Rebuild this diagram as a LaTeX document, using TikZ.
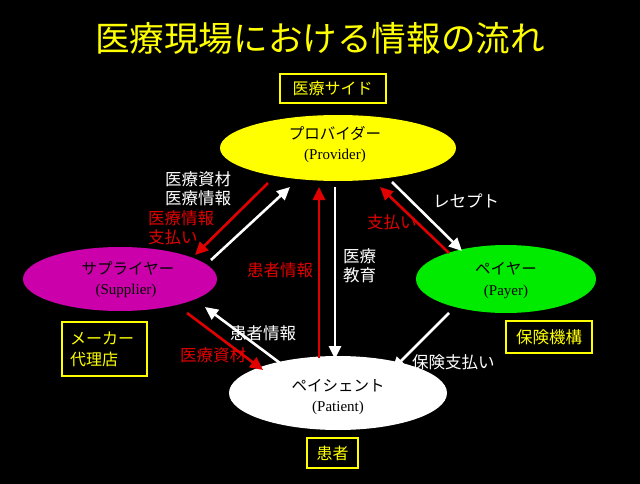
\documentclass[tikz,border=0pt]{standalone}
\usepackage{fontspec}
\setmainfont{Liberation Serif}
\newfontfamily\jp{Noto Sans CJK JP}
\usetikzlibrary{arrows.meta,shapes.geometric}
\definecolor{ared}{RGB}{225,0,0}
\definecolor{amag}{RGB}{204,0,170}
\definecolor{agreen}{RGB}{0,235,0}
\definecolor{ayel}{RGB}{255,255,0}
\tikzset{
  ell/.style={ellipse,inner sep=0pt,align=center,text=black},
  tagbox/.style={draw=ayel,line width=2pt,text=ayel,font=\jp\fontsize{16}{21}\selectfont,align=left,inner sep=0pt},
  lbl/.style={font=\jp\fontsize{16.5}{19.5}\selectfont,align=left,inner sep=0pt},
  warr/.style={draw=white,line width=2.6pt,-{Triangle[length=13pt,width=12pt]}},
  rarr/.style={draw=ared,line width=2.6pt,-{Triangle[length=13pt,width=12pt]}},
}
\begin{document}
\begin{tikzpicture}[x=1pt,y=-1pt]
\fill[black] (0,0) rectangle (640,484);
\useasboundingbox (0,0) rectangle (640,484);
\node[text=ayel,font=\jp\fontsize{34.6}{38}\selectfont,inner sep=0pt] (title) at (320,38) {医療現場における情報の流れ};
% ellipses
\node[ell,fill=ayel,minimum width=236pt,minimum height=66pt] (prov) at (338,148) {};
\node[ell,fill=amag,minimum width=194pt,minimum height=64pt] (sup) at (120,279) {};
\node[ell,fill=agreen,minimum width=180pt,minimum height=68pt] (pay) at (506,279) {};
\node[ell,fill=white,minimum width=218pt,minimum height=74pt] (pat) at (338,393) {};
\node[font=\jp\fontsize{15.5}{18}\selectfont,inner sep=0pt] (provj) at (335,133) {プロバイダー};
\node[font=\fontsize{15}{18}\selectfont,inner sep=0pt] (prove) at (335,156) {(Provider)};
\node[font=\jp\fontsize{15.5}{18}\selectfont,inner sep=0pt] (supj) at (128,268) {サプライヤー};
\node[font=\fontsize{15}{18}\selectfont,inner sep=0pt] (supe) at (126,291) {(Supplier)};
\node[font=\jp\fontsize{15.5}{18}\selectfont,inner sep=0pt] (payj) at (506,269) {ペイヤー};
\node[font=\fontsize{15}{18}\selectfont,inner sep=0pt] (paye) at (506,292) {(Payer)};
\node[font=\jp\fontsize{15.5}{18}\selectfont,inner sep=0pt] (patj) at (338,386) {ペイシェント};
\node[font=\fontsize{15}{18}\selectfont,inner sep=0pt] (pate) at (338,408) {(Patient)};
% tag boxes
\node[tagbox,minimum width=106pt,minimum height=29pt] (side) at (332.5,88.5) {医療サイド};
\node[tagbox,text width=69pt,inner xsep=8pt,minimum height=54pt] (maker) at (104.5,349) {メーカー\\代理店};
\node[tagbox,font=\jp\fontsize{16.5}{21}\selectfont,minimum width=86pt,minimum height=32pt] (hoken) at (549,337) {保険機構};
\node[tagbox,minimum width=51pt,minimum height=30pt] (kanja) at (332.5,453) {患者};
% arrow endpoints
\coordinate (a1s) at (268,183); \coordinate (a1e) at (195,255);
\coordinate (a2s) at (211,260); \coordinate (a2e) at (290,187);
\coordinate (a3s) at (319,358); \coordinate (a3e) at (319,187);
\coordinate (a4s) at (335,187); \coordinate (a4e) at (335,359);
\coordinate (a5s) at (392,182); \coordinate (a5e) at (462,251);
\coordinate (a6s) at (449,253); \coordinate (a6e) at (380,187);
\coordinate (a7s) at (449,313); \coordinate (a7e) at (392,370);
\coordinate (a8s) at (187,313); \coordinate (a8e) at (263,370);
\coordinate (a9s) at (280,363); \coordinate (a9e) at (205,307);
\draw[rarr] (a1s) -- (a1e);
\draw[warr] (a2s) -- (a2e);
\draw[rarr] (a3s) -- (a3e);
\draw[warr] (a4s) -- (a4e);
\draw[warr] (a5s) -- (a5e);
\draw[rarr] (a6s) -- (a6e);
\draw[warr] (a7s) -- (a7e);
\draw[rarr] (a8s) -- (a8e);
\draw[warr] (a9s) -- (a9e);
% labels
\node[lbl,text=white,anchor=north west] (l1) at (165,171) {医療資材\\医療情報};
\node[lbl,text=ared,anchor=north west] (l2) at (148,210) {医療情報\\支払い};
\node[lbl,text=ared,anchor=west] (l3) at (247,270) {患者情報};
\node[lbl,text=white,anchor=north west] (l4) at (343,248) {医療\\教育};
\node[lbl,text=white,anchor=west] (l5) at (433,201) {レセプト};
\node[lbl,text=ared,anchor=west] (l6) at (367,222) {支払い};
\node[lbl,text=white,anchor=west] (l7) at (412,362) {保険支払い};
\node[lbl,text=white,anchor=west] (l8) at (230,333) {患者情報};
\node[lbl,text=ared,anchor=west] (l9) at (180,355) {医療資材};
\end{tikzpicture}
\end{document}
